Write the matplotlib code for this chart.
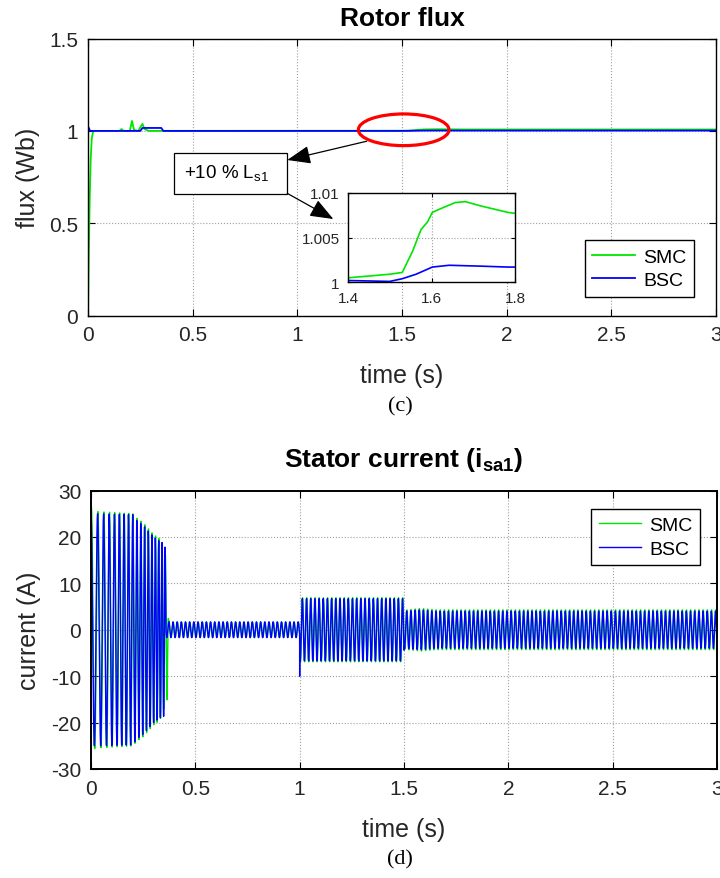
import numpy as np
import matplotlib
matplotlib.use('Agg')
import matplotlib.pyplot as plt
from matplotlib.patches import Ellipse, Rectangle

plt.rcParams['font.family'] = ['Liberation Sans', 'DejaVu Sans']
plt.rcParams['mathtext.fontset'] = 'custom'
plt.rcParams['mathtext.rm'] = 'Liberation Sans'
plt.rcParams['mathtext.it'] = 'Liberation Sans:italic'
plt.rcParams['mathtext.bf'] = 'Liberation Sans:bold'
plt.rcParams['axes.unicode_minus'] = False

GREEN = '#00e600'
BLUE = '#0000ff'
TXT = '#262626'

# rotor flux, SMC
flux_t_smc = [0, 0.004, 0.008, 0.013, 0.018, 0.025, 0.10, 0.15, 0.16, 0.17, 0.20, 0.21, 0.22,
              0.24, 0.26, 0.27, 0.29, 0.35, 1.40, 1.50, 1.53, 1.555, 1.575, 1.59, 1.602,
              1.626, 1.657, 1.681, 1.72, 1.783, 1.80, 2.2, 3.0]
flux_smc = [0, 0.35, 0.62, 0.85, 0.96, 1.0, 1.0, 1.0, 1.01, 1.0, 1.0, 1.054, 1.005,
            1.0, 1.038, 1.01, 1.0, 1.0, 1.0005, 1.0009, 1.0011, 1.0035, 1.0059, 1.0067, 1.0078,
            1.0083, 1.0089, 1.009, 1.0085, 1.0078, 1.0077, 1.0076, 1.0076]

# rotor flux, BSC
flux_t_bsc = [0, 0.0005, 0.002, 0.01, 0.25, 0.26, 0.35, 0.36, 1.40, 1.50, 1.53, 1.563,
              1.602, 1.642, 1.72, 1.783, 1.80, 2.2, 3.0]
flux_bsc = [0, 1.0, 1.02, 1.0, 1.0, 1.016, 1.016, 1.0, 1.0002, 1.0001, 1.0004, 1.0009,
            1.0017, 1.0019, 1.0018, 1.0017, 1.0017, 1.0017, 1.0017]

# stator current envelopes (peak amplitude, A)
smc_env_t = [0, 0.02, 0.20, 0.22, 0.25, 0.28, 0.30, 0.33, 0.365, 0.372, 0.38,
             1.0, 1.001, 1.5, 1.501, 1.58, 1.65, 3.0]
smc_env_a = [26.5, 25.5, 25.0, 24.0, 23.0, 21.5, 20.5, 19.5, 15.0, 2.0, 1.6,
             1.6, 6.9, 6.9, 4.2, 4.6, 4.3, 4.3]
bsc_env_t = [0, 0.02, 0.20, 0.22, 0.25, 0.28, 0.30, 0.33, 0.355, 0.36, 0.37,
             1.0, 1.001, 1.5, 1.501, 1.58, 1.65, 3.0]
bsc_env_a = [25.0, 25.0, 24.8, 23.5, 22.5, 21.0, 20.0, 19.0, 18.5, 1.7, 1.7,
             1.7, 6.7, 6.7, 4.0, 4.3, 4.0, 4.0]
# supply frequency during start-up and steady state
freq_t = [0, 0.36, 0.37, 3.0]
freq_hz = [30, 66, 50, 50]
# transient spikes (time, value)
bsc_spike_t = [0.0, 1.0]
bsc_spike_v = [31.0, -10.0]

t = np.arange(0, 3.0, 1e-4)
phase = 2 * np.pi * np.cumsum(np.interp(t, freq_t, freq_hz)) * 1e-4
i_bsc = np.interp(t, bsc_env_t, bsc_env_a) * np.cos(phase)
i_smc = np.interp(t, smc_env_t, smc_env_a) * np.cos(phase - 0.35)
for ts, v in zip(bsc_spike_t, bsc_spike_v):
    i_bsc[np.argmin(np.abs(t - ts))] = v

fig = plt.figure(figsize=(7.2, 8.79), dpi=100)


def style(ax, size, pad):
    ax.tick_params(direction='in', top=True, right=True, labelsize=size, color='k',
                   labelcolor=TXT, length=5, width=0.8, pad=pad)
    ax.grid(True, ls=':', color='#a0a0a0', lw=0.8)
    for s in ax.spines.values():
        s.set_linewidth(1.0)


# (c) rotor flux
ax1 = fig.add_axes([88 / 720, 1 - 316.7 / 879, 628 / 720, 277.2 / 879])
ax1.plot(flux_t_smc, flux_smc, color=GREEN, lw=1.3, label='SMC')
ax1.plot(flux_t_bsc, flux_bsc, color=BLUE, lw=1.3, label='BSC')
ax1.set_xlim(0, 3)
ax1.set_ylim(0, 1.5)
ax1.set_xticks([0, 0.5, 1, 1.5, 2, 2.5, 3])
ax1.set_xticklabels(['0', '0.5', '1', '1.5', '2', '2.5', '3'])
ax1.set_yticks([0, 0.5, 1, 1.5])
ax1.set_yticklabels(['0', '0.5', '1', '1.5'])
style(ax1, 15, 7)
ax1.set_xlabel('time (s)', fontsize=18, color=TXT)
ax1.set_ylabel('flux (Wb)', fontsize=18, color=TXT)
ax1.xaxis.label.set_va('center')
ax1.yaxis.label.set_va('center')
ax1.xaxis.set_label_coords(0.5, -0.214)
ax1.yaxis.set_label_coords(-0.0955, 0.5)
ax1.text(0.5, 1.047, 'Rotor flux', transform=ax1.transAxes, ha='center', va='baseline',
         fontsize=19, fontweight='bold', color='k')
ax1.legend(loc='lower right', bbox_to_anchor=(0.965, 0.0675), borderaxespad=0,
           fontsize=14, fancybox=False, framealpha=1, edgecolor='k',
           handlelength=2.2, handletextpad=0.4, borderpad=0.4, labelspacing=0.3)

ax1.add_patch(Ellipse((1.508, 1.006), 0.433, 0.1715, fill=False, edgecolor='#ff0000',
                      lw=2.3, zorder=5))
ax1.add_patch(Rectangle((0.412, 0.659), 0.540, 0.221, facecolor='white', edgecolor='k',
                        lw=0.9, zorder=5))
ax1.text(0.460, 0.775, '+10 % L$_\\mathrm{s1}$', fontsize=13.5, ha='left', va='center',
         zorder=6, color='k')
arrow = dict(arrowstyle='-|>,head_length=0.9,head_width=0.35', color='k', lw=0.9,
             mutation_scale=16, shrinkA=0, shrinkB=0)
ax1.annotate('', xy=(0.952, 0.8425), xytext=(1.331, 0.944), arrowprops=arrow, zorder=6)
ax1.annotate('', xy=(1.172, 0.523), xytext=(0.952, 0.662), arrowprops=arrow, zorder=6)

# zoom on the flux step
axi = fig.add_axes([348 / 720, 1 - 283.3 / 879, 167 / 720, 89.6 / 879])
axi.plot(flux_t_smc, flux_smc, color=GREEN, lw=1.2)
axi.plot(flux_t_bsc, flux_bsc, color=BLUE, lw=1.2)
axi.set_xlim(1.4, 1.8)
axi.set_ylim(1.0, 1.01)
axi.set_xticks([1.4, 1.6, 1.8])
axi.set_xticklabels(['1.4', '1.6', '1.8'])
axi.set_yticks([1.0, 1.005, 1.01])
axi.set_yticklabels(['1', '1.005', '1.01'])
style(axi, 11, 6)
axi.tick_params(length=3)

fig.text(400 / 720, 1 - 406.7 / 879, '(c)', ha='center', va='center', fontsize=16,
         family='Liberation Serif', color='k')

# (d) stator current
ax2 = fig.add_axes([91 / 720, 1 - 770 / 879, 626 / 720, 278.5 / 879])
ax2.plot(t, i_smc, color=GREEN, lw=1.0, label='SMC')
ax2.plot(t, i_bsc, color=BLUE, lw=1.0, label='BSC')
ax2.set_xlim(0, 3)
ax2.set_ylim(-30, 30)
ax2.set_xticks([0, 0.5, 1, 1.5, 2, 2.5, 3])
ax2.set_xticklabels(['0', '0.5', '1', '1.5', '2', '2.5', '3'])
ax2.set_yticks([-30, -20, -10, 0, 10, 20, 30])
style(ax2, 15, 7)
for s in ax2.spines.values():
    s.set_linewidth(1.4)
ax2.set_xlabel('time (s)', fontsize=18, color=TXT)
ax2.set_ylabel('current (A)', fontsize=18, color=TXT)
ax2.xaxis.label.set_va('center')
ax2.yaxis.label.set_va('center')
ax2.xaxis.set_label_coords(0.5, -0.2155)
ax2.yaxis.set_label_coords(-0.099, 0.5)
ax2.text(0.5, 1.088, 'Stator current (i$_\\mathbf{sa1}$)', transform=ax2.transAxes,
         ha='center', va='baseline', fontsize=19, fontweight='bold', color='k')
ax2.legend(loc='upper right', bbox_to_anchor=(0.973, 0.934), borderaxespad=0,
           fontsize=14, fancybox=False, framealpha=1, edgecolor='k',
           handlelength=2.2, handletextpad=0.4, borderpad=0.4, labelspacing=0.3)

fig.text(400 / 720, 1 - 860 / 879, '(d)', ha='center', va='center', fontsize=16,
         family='Liberation Serif', color='k')

fig.savefig('out.png', dpi=100)
